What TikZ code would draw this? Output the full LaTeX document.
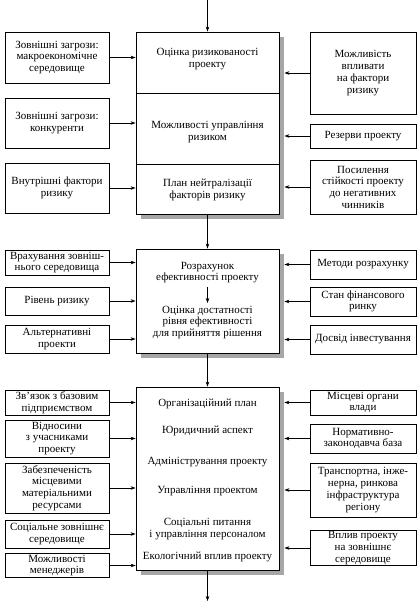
\documentclass[tikz,border=0pt]{standalone}
\usepackage{fontspec}
\setmainfont{Liberation Serif}
\usetikzlibrary{arrows.meta, calc, shadows}

\begin{document}
\begin{tikzpicture}[x=1pt, y=-1pt, >={Stealth[length=5pt,width=3.6pt]},
  box/.style={draw, line width=0.9pt, align=center, inner sep=1pt, font=\fontsize{11}{11.7}\selectfont},
  lbox/.style={box, minimum width=104pt},
  rbox/.style={box, minimum width=106pt},
  main/.style={draw, line width=0.9pt, minimum width=143pt, fill=white,
    drop shadow={shadow xshift=5pt, shadow yshift=-5pt, fill=black!35, opacity=1}},
  txt/.style={align=center, inner sep=0pt, font=\fontsize{11}{11.7}\selectfont},
  link/.style={->, line width=0.6pt}]

\useasboundingbox (0,0) rectangle (418,601);

\node[main, minimum height=182pt] (b1) at (207.5,123) {};
\node[main, minimum height=104pt] (b2) at (207.5,301) {};
\node[main, minimum height=183pt] (b3) at (207.5,478.5) {};
\draw[line width=0.9pt] (b1.west |- 0,93) -- (b1.east |- 0,93);
\draw[line width=0.9pt] (b1.west |- 0,164) -- (b1.east |- 0,164);

\node[txt] (t1) at (207.5,59) {Оцінка ризикованості\\проекту};
\node[txt] (t2) at (207.5,132) {Можливості управління\\ризиком};
\node[txt] (t3) at (207.5,190) {План нейтралізації\\факторів ризику};
\node[txt] (t4) at (207.5,272.5) {Розрахунок\\ефективності проекту};
\node[txt] (t5) at (207.5,322.5) {Оцінка достатності\\рівня ефективності\\для прийняття рішення};
\node[txt] (t6) at (207.5,404) {Організаційний план};
\node[txt] (t7) at (207.5,431) {Юридичний аспект};
\node[txt] (t8) at (207.5,462) {Адміністрування проекту};
\node[txt] (t9) at (207.5,491) {Управління проектом};
\node[txt] (t10) at (207.5,529) {Соціальні питання\\і управління персоналом};
\node[txt] (t11) at (207.5,557) {Екологічний вплив проекту};

\node[lbox, minimum height=51pt] (l1) at (57,57.5) {Зовнішні загрози:\\макроекономічне\\середовище};
\node[lbox, minimum height=50pt] (l2) at (57,123) {Зовнішні загрози:\\конкуренти};
\node[lbox, minimum height=50pt] (l3) at (57,188) {Внутрішні фактори\\ризику};
\node[lbox, minimum height=25pt] (l4) at (57,262.5) {Врахування зовніш-\\нього середовища};
\node[lbox, minimum height=28pt] (l5) at (57,301) {Рівень ризику};
\node[lbox, minimum height=28pt] (l6) at (57,339) {Альтернативні\\проекти};
\node[lbox, minimum height=25pt] (l7) at (57,402.5) {Зв’язок з базовим\\підприємством};
\node[lbox, minimum height=37pt] (l8) at (57,438.5) {Відносини\\з учасниками\\проекту};
\node[lbox, minimum height=50pt] (l9) at (57,488) {Забезпеченість\\місцевими\\матеріальними\\ресурсами};
\node[lbox, minimum height=28pt] (l10) at (57,534) {Соціальне зовнішнє\\середовище};
\node[lbox, minimum height=23pt] (l11) at (57,565.5) {Можливості\\менеджерів};

\node[rbox, minimum height=82pt] (r1) at (363,73) {Можливість\\впливати\\на фактори\\ризику};
\node[rbox, minimum height=24pt] (r2) at (363,136) {Резерви проекту};
\node[rbox, minimum height=54pt] (r3) at (363,187) {Посилення\\стійкості проекту\\до негативних\\чинників};
\node[rbox, minimum height=29pt] (r4) at (363,264.5) {Методи розрахунку};
\node[rbox, minimum height=29pt] (r5) at (363,301.5) {Стан фінансового\\ринку};
\node[rbox, minimum height=29pt] (r6) at (363,339.5) {Досвід інвестування};
\node[rbox, minimum height=25pt] (r7) at (363,402.5) {Місцеві органи\\влади};
\node[rbox, minimum height=29pt] (r8) at (363,438.5) {Нормативно-\\законодавча база};
\node[rbox, minimum height=54pt] (r9) at (363,490) {Транспортна, інже-\\нерна, ринкова\\інфраструктура\\регіону};
\node[rbox, minimum height=34pt] (r10) at (363,548) {Вплив проекту\\на зовнішнє\\середовище};

\coordinate (in) at (207.5,0);
\coordinate (out) at (207.5,601);
\coordinate (s1) at (207.5,287);
\coordinate (s2) at (207.5,303);
\draw[link] (in) -- (b1);
\draw[link] (b1) -- (b2);
\draw[link] (b2) -- (b3);
\draw[link] (b3) -- (out);
\draw[link] (s1) -- (s2);

\foreach \n/\b in {l1/b1, l2/b1, l3/b1, l4/b2, l5/b2, l6/b2, l7/b3, l8/b3, l9/b3, l10/b3, l11/b3}
  \draw[link] (\n.east) -- (\n.east -| \b.west);
\foreach \n/\b in {r1/b1, r2/b1, r3/b1, r4/b2, r5/b2, r6/b2, r7/b3, r8/b3, r9/b3, r10/b3}
  \draw[link] (\n.west) -- ($(\n.west -| \b.east)+(5,0)$);

\end{tikzpicture}
\end{document}
